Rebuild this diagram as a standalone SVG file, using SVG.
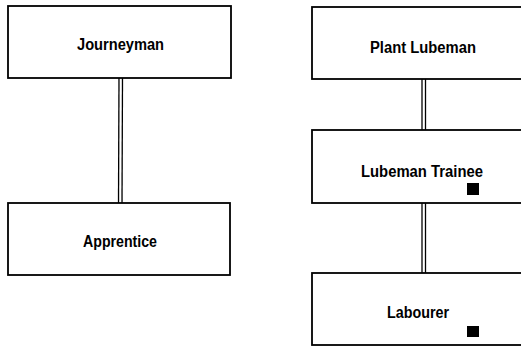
<svg xmlns="http://www.w3.org/2000/svg" width="521" height="346" viewBox="0 0 521 346">
<style>
.box{fill:#fff;stroke:#000;stroke-width:1.8}
.lbl{font-family:"Liberation Sans",Arial,sans-serif;font-weight:bold;font-size:16px;fill:#000;text-anchor:middle}
.wire{stroke:#000;stroke-width:1.3;fill:none}
.mark{fill:#000}
</style>
<rect width="521" height="346" fill="#fff"/>
<g id="connectors">
<line class="wire" x1="119" y1="78" x2="118.5" y2="203"/>
<line class="wire" x1="122.5" y1="78" x2="122" y2="203"/>
<line class="wire" x1="422" y1="79" x2="422" y2="130"/>
<line class="wire" x1="425.5" y1="79" x2="425.5" y2="130"/>
<line class="wire" x1="422" y1="203" x2="422" y2="273"/>
<line class="wire" x1="425.5" y1="203" x2="425.5" y2="273"/>
</g>
<g id="journeyman">
<rect class="box" x="8" y="6" width="223" height="72"/>
<text class="lbl" x="120.5" y="50" textLength="87" lengthAdjust="spacingAndGlyphs">Journeyman</text>
</g>
<g id="apprentice">
<rect class="box" x="8" y="203" width="222" height="72"/>
<text class="lbl" x="120" y="247" textLength="74" lengthAdjust="spacingAndGlyphs">Apprentice</text>
</g>
<g id="plant-lubeman">
<rect class="box" x="312" y="7" width="212" height="72"/>
<text class="lbl" x="423" y="53" textLength="106" lengthAdjust="spacingAndGlyphs">Plant Lubeman</text>
</g>
<g id="lubeman-trainee">
<rect class="box" x="312" y="130" width="212" height="73"/>
<text class="lbl" x="422" y="177" textLength="122" lengthAdjust="spacingAndGlyphs">Lubeman Trainee</text>
<rect class="mark" x="467" y="183" width="12" height="12"/>
</g>
<g id="labourer">
<rect class="box" x="312" y="273" width="212" height="72"/>
<text class="lbl" x="418" y="318" textLength="62" lengthAdjust="spacingAndGlyphs">Labourer</text>
<rect class="mark" x="467" y="326" width="12" height="11"/>
</g>
</svg>
